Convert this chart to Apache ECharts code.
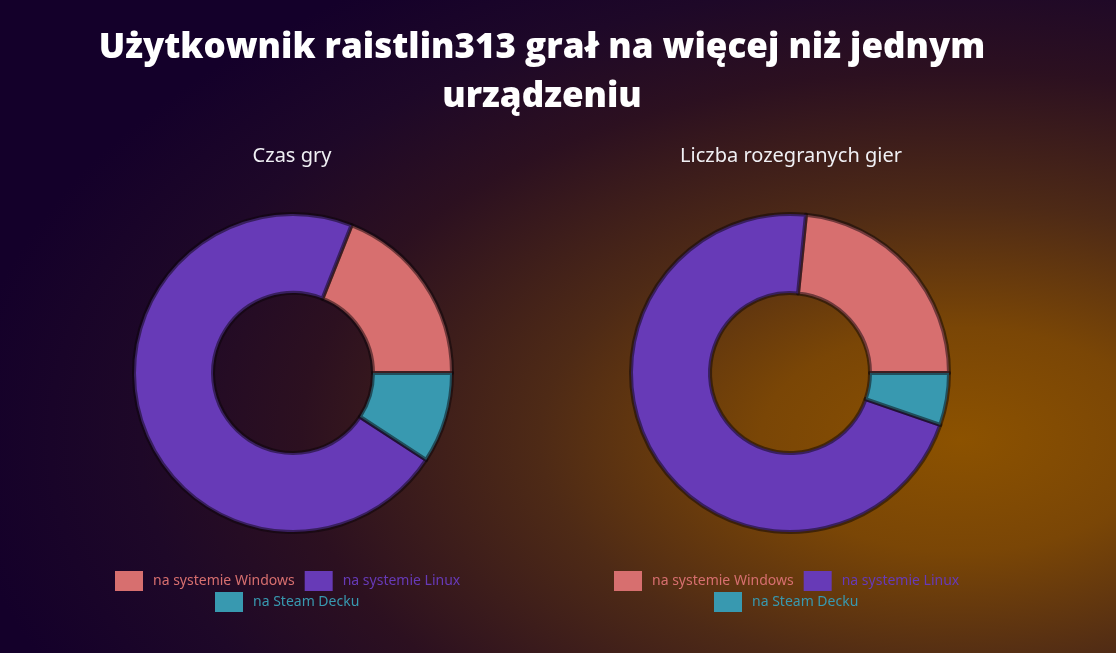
<!DOCTYPE html>
<html>
<head>
<meta charset="utf-8">
<script src="https://cdn.jsdelivr.net/npm/echarts@6/dist/echarts.min.js"></script>
<style>
html,body{margin:0;padding:0;width:1116px;height:653px;overflow:hidden;}
body{background:radial-gradient(ellipse 1000px 560px at 960px 440px,#8c5200 0%,#7a4606 20%,#4e2a16 42%,#2c1020 66%,#1e0828 82%,#14002a 100%);}
#chart{width:1116px;height:653px;}
</style>
</head>
<body>
<div id="chart"></div>
<script>
const mainTitle = 'Użytkownik raistlin313 grał na więcej niż jednym\nurządzeniu';
const chartTitles = ['Czas gry', 'Liczba rozegranych gier'];
const categories = ['na systemie Windows', 'na systemie Linux', 'na Steam Decku'];
const colors = ['#d76f6f', '#673ab7', '#3899b0'];
const playTime = [19.0, 71.8, 9.2];
const gamesPlayed = [23.4, 71.3, 5.3];

const chart = echarts.init(document.getElementById('chart'), null, {renderer: 'canvas'});

function pieSeries(name, values, center) {
  return {
    type: 'pie',
    name: name,
    center: center,
    radius: [80, 159],
    startAngle: 0,
    clockwise: false,
    label: {show: false},
    labelLine: {show: false},
    itemStyle: {borderColor: 'rgba(10,4,8,0.5)', borderWidth: 4},
    emphasis: {scale: false},
    data: categories.map((c, i) => ({name: c, value: values[i], itemStyle: {color: colors[i]}}))
  };
}

function legendRow(names, left, top) {
  return {
    left: left, top: top, padding: 0,
    itemWidth: 28, itemHeight: 20, itemGap: 10, icon: 'rect',
    itemStyle: {borderWidth: 0},
    data: names.map(n => ({name: n, itemStyle: {borderWidth: 0}, textStyle: {color: colors[categories.indexOf(n)]}})),
    textStyle: {fontFamily: 'Noto Sans', fontSize: 14, padding: [3, 0, 0, 5]}
  };
}

chart.setOption({
  backgroundColor: 'transparent',
  title: [
    {text: mainTitle, left: 542, textAlign: 'center', top: 24, padding: 0,
     textStyle: {color: '#ffffff', fontFamily: 'Open Sans', fontWeight: 800, fontSize: 35, lineHeight: 49}},
    {text: chartTitles[0], left: 292, textAlign: 'center', top: 146, padding: 0,
     textStyle: {color: '#f0f0f4', fontFamily: 'Noto Sans', fontWeight: 'normal', fontSize: 20}},
    {text: chartTitles[1], left: 791, textAlign: 'center', top: 146, padding: 0,
     textStyle: {color: '#f0f0f4', fontFamily: 'Noto Sans', fontWeight: 'normal', fontSize: 20}}
  ],
  legend: [
    legendRow([categories[0], categories[1]], 115, 571),
    legendRow([categories[2]], 215, 592),
    legendRow([categories[0], categories[1]], 614, 571),
    legendRow([categories[2]], 714, 592)
  ],
  series: [
    pieSeries(chartTitles[0], playTime, [293, 373]),
    pieSeries(chartTitles[1], gamesPlayed, [790, 373])
  ]
});
</script>
</body>
</html>
